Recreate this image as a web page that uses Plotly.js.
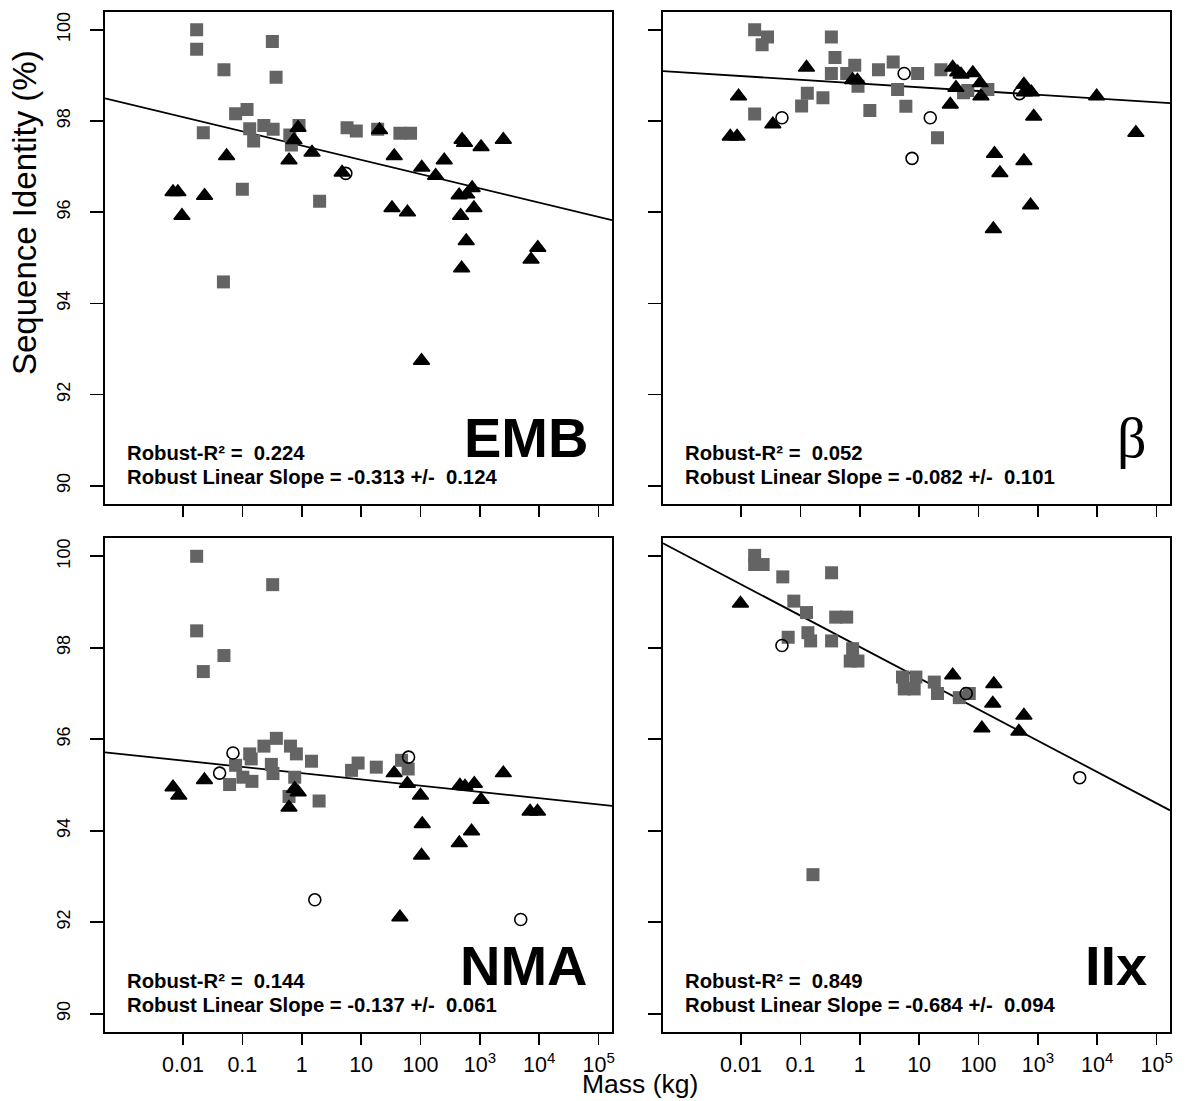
<!DOCTYPE html>
<html>
<head>
<meta charset="utf-8">
<script src="https://cdn.plot.ly/plotly-3.0.1.min.js"></script>
<style>
  html, body { margin: 0; padding: 0; background: #ffffff; }
  #chart { width: 1189px; height: 1101px; }
</style>
</head>
<body>
<div id="chart"></div>
<script>
// ---- axes ----
const massTickVals = [0.01, 0.1, 1, 10, 100, 1000, 10000, 100000];
const massTickText = ['0.01', '0.1', '1', '10', '100', '10<sup>3</sup>', '10<sup>4</sup>', '10<sup>5</sup>'];
const identityTickVals = [90, 92, 94, 96, 98, 100];

// ---- per-panel summary (robust regression of identity on log10 mass) ----
const panelNames = ['EMB', 'β', 'NMA', 'IIx'];
const robustR2 = [0.224, 0.052, 0.144, 0.849];
const robustSlope = [-0.313, -0.082, -0.137, -0.684];
const robustSlopeSE = [0.124, 0.101, 0.061, 0.094];
const fitAtOneKg = [97.46, 98.82, 95.26, 98.02];

// ---- EMB ----
const embSquareMass = [0.017, 0.017, 0.32, 0.049, 0.37, 0.077, 0.12, 0.022, 0.133, 0.155, 0.23, 0.33, 0.63, 0.67, 0.90, 0.10, 2.0, 5.8, 8.3, 19, 45, 68, 0.048];
const embSquareIdentity = [100.0, 99.57, 99.74, 99.12, 98.96, 98.16, 98.25, 97.74, 97.83, 97.56, 97.90, 97.82, 97.69, 97.47, 97.90, 96.50, 96.24, 97.85, 97.78, 97.82, 97.73, 97.73, 94.47];
const embTriangleMass = [0.0068, 0.0082, 0.0096, 0.0231, 0.0543, 0.611, 0.867, 0.741, 1.49, 4.79, 36.1, 105, 180, 251, 501, 550, 1047, 2483, 741, 447, 603, 794, 33.1, 60.3, 474, 589, 9441, 493, 7278, 104, 20.4];
const embTriangleIdentity = [96.44, 96.44, 95.92, 96.36, 97.23, 97.14, 97.85, 97.58, 97.31, 96.87, 97.23, 96.98, 96.80, 97.14, 97.59, 97.52, 97.43, 97.59, 96.53, 96.37, 96.39, 96.09, 96.09, 96.00, 95.92, 95.37, 95.22, 94.77, 94.96, 92.74, 97.80];
const embCircleMass = [5.52];
const embCircleIdentity = [96.85];

// ---- beta ----
const betaSquareMass = [0.017, 0.028, 0.0227, 0.333, 0.383, 0.333, 0.603, 0.824, 0.935, 2.07, 3.66, 4.34, 5.98, 0.131, 0.105, 0.24, 0.017, 1.48, 9.44, 23.3, 20.4, 66, 144, 56];
const betaSquareIdentity = [100.0, 99.84, 99.67, 99.84, 99.39, 99.04, 99.04, 99.22, 98.76, 99.12, 99.29, 98.69, 98.32, 98.61, 98.33, 98.51, 98.15, 98.23, 99.04, 99.12, 97.63, 98.67, 98.69, 98.62];
const betaTriangleMass = [0.0091, 0.0066, 0.0086, 0.0344, 0.127, 0.759, 0.912, 33.5, 36.8, 44.7, 50.8, 80.2, 41.7, 107, 110, 582, 776, 596, 9772, 851, 44668, 186, 582, 229, 753, 178];
const betaTriangleIdentity = [98.54, 97.66, 97.66, 97.93, 99.17, 98.90, 98.89, 98.36, 99.17, 99.07, 99.02, 99.05, 98.73, 98.83, 98.54, 98.80, 98.63, 98.63, 98.54, 98.10, 97.74, 97.28, 97.12, 96.86, 96.15, 95.63];
const betaCircleMass = [0.049, 5.6, 7.6, 15.4, 490];
const betaCircleIdentity = [98.07, 99.04, 97.18, 98.07, 98.60];

// ---- NMA ----
const nmaSquareMass = [0.017, 0.324, 0.017, 0.049, 0.022, 0.374, 0.231, 0.133, 0.141, 0.646, 0.813, 1.46, 0.308, 0.077, 6.9, 8.9, 0.061, 0.102, 0.145, 0.328, 0.762, 0.611, 1.96, 18, 48, 62];
const nmaSquareIdentity = [100.0, 99.38, 98.37, 97.83, 97.48, 96.02, 95.85, 95.68, 95.57, 95.85, 95.68, 95.52, 95.45, 95.43, 95.32, 95.48, 95.01, 95.17, 95.08, 95.25, 95.17, 94.75, 94.65, 95.39, 95.54, 95.35];
const nmaTriangleMass = [0.0068, 0.0085, 0.023, 0.76, 0.87, 0.61, 45, 60, 36, 100, 107, 104, 461, 562, 805, 1047, 724, 450, 7000, 9333, 2483];
const nmaTriangleIdentity = [94.95, 94.77, 95.11, 94.92, 94.84, 94.51, 92.11, 95.03, 95.26, 94.77, 94.15, 93.46, 94.99, 94.97, 95.03, 94.68, 93.99, 93.73, 94.42, 94.42, 95.26];
const nmaCircleMass = [0.0695, 0.0414, 63, 1.66, 4875];
const nmaCircleIdentity = [95.70, 95.26, 95.61, 92.49, 92.06];

// ---- IIx ----
const iixSquareMass = [0.017, 0.0236, 0.017, 0.0506, 0.336, 0.0776, 0.127, 0.394, 0.603, 0.0624, 0.134, 0.149, 0.336, 0.759, 0.692, 0.933, 5.25, 8.83, 5.62, 8.26, 18, 20.4, 70, 47.5, 0.163];
const iixSquareIdentity = [100.02, 99.82, 99.82, 99.55, 99.64, 99.02, 98.77, 98.67, 98.67, 98.23, 98.33, 98.15, 98.15, 97.98, 97.71, 97.71, 97.36, 97.36, 97.10, 97.10, 97.25, 97.00, 97.00, 96.91, 93.04];
const iixTriangleMass = [0.0098, 36.8, 181, 174, 582, 114, 479];
const iixTriangleIdentity = [98.97, 97.40, 97.21, 96.78, 96.52, 96.24, 96.17];
const iixCircleMass = [0.049, 62, 5058];
const iixCircleIdentity = [98.05, 97.00, 95.16];

const panels = [
  { sq: [embSquareMass, embSquareIdentity], tri: [embTriangleMass, embTriangleIdentity], circ: [embCircleMass, embCircleIdentity] },
  { sq: [betaSquareMass, betaSquareIdentity], tri: [betaTriangleMass, betaTriangleIdentity], circ: [betaCircleMass, betaCircleIdentity] },
  { sq: [nmaSquareMass, nmaSquareIdentity], tri: [nmaTriangleMass, nmaTriangleIdentity], circ: [nmaCircleMass, nmaCircleIdentity] },
  { sq: [iixSquareMass, iixSquareIdentity], tri: [iixTriangleMass, iixTriangleIdentity], circ: [iixCircleMass, iixCircleIdentity] }
];

// ---- geometry (pixels) ----
const W = 1189, H = 1101;
const FONT = 'Liberation Sans, Arial, Helvetica, sans-serif';
const colPx = [[105, 612], [663, 1170]];
const rowPx = [[11.5, 504], [538, 1032]];
const LOG_X_RANGE = [-3.313, 5.225];
const Y_RANGE = [89.6, 100.4];
const fx = px => px / W;
const fy = py => 1 - py / H;

const traces = [];
const layout = {
  width: W, height: H,
  margin: { l: 0, r: 0, t: 0, b: 0 },
  paper_bgcolor: '#ffffff', plot_bgcolor: '#ffffff',
  showlegend: false,
  font: { family: FONT, color: '#000000' },
  annotations: []
};

panels.forEach((p, i) => {
  const row = Math.floor(i / 2), col = i % 2;
  const n = i + 1;
  const xId = n === 1 ? 'x' : 'x' + n;
  const yId = n === 1 ? 'y' : 'y' + n;
  const xKey = n === 1 ? 'xaxis' : 'xaxis' + n;
  const yKey = n === 1 ? 'yaxis' : 'yaxis' + n;
  const xOverlayKey = 'xaxis' + (n + 4);

  layout[xKey] = {
    type: 'log', range: LOG_X_RANGE, domain: [fx(colPx[col][0]), fx(colPx[col][1])],
    anchor: yId, showgrid: false, zeroline: false,
    showline: true, mirror: true, linecolor: '#000000', linewidth: 2,
    ticks: 'outside', ticklen: 11, tickwidth: 1.6, tickcolor: '#000000',
    tickmode: 'array', tickvals: massTickVals, ticktext: massTickText,
    showticklabels: row === 1, ticklabelstandoff: 1,
    tickfont: { family: FONT, size: 21.5, color: '#000000' }
  };
  // second axis on the same bottom edge: the inward half of each tick
  layout[xOverlayKey] = {
    type: 'log', range: LOG_X_RANGE, overlaying: xId, anchor: yId,
    showgrid: false, zeroline: false, showline: false,
    ticks: 'inside', ticklen: 10, tickwidth: 1.6, tickcolor: '#000000',
    tickmode: 'array', tickvals: massTickVals, showticklabels: false
  };
  layout[yKey] = {
    range: Y_RANGE, domain: [fy(rowPx[row][1]), fy(rowPx[row][0])],
    anchor: xId, showgrid: false, zeroline: false,
    showline: true, mirror: true, linecolor: '#000000', linewidth: 2,
    ticks: 'outside', ticklen: 13, tickwidth: 1.6, tickcolor: '#000000',
    tickmode: 'array', tickvals: identityTickVals, tickangle: -90,
    showticklabels: col === 0, ticklabelstandoff: 13,
    tickfont: { family: FONT, size: 18, color: '#000000' }
  };

  // fitted robust line across the full x extent
  const lx = LOG_X_RANGE.map(v => Math.pow(10, v));
  const ly = LOG_X_RANGE.map(v => fitAtOneKg[i] + robustSlope[i] * v);
  traces.push({
    x: lx, y: ly, xaxis: xId, yaxis: yId, type: 'scatter', mode: 'lines',
    line: { color: '#000000', width: 1.8 }, hoverinfo: 'skip', cliponaxis: true
  });
  traces.push({
    x: p.sq[0], y: p.sq[1], xaxis: xId, yaxis: yId, type: 'scatter', mode: 'markers',
    marker: { symbol: 'square', size: 13, color: '#646464', line: { width: 0 } }
  });
  traces.push({
    x: p.tri[0], y: p.tri[1], xaxis: xId, yaxis: yId, type: 'scatter', mode: 'markers',
    marker: { symbol: 'triangle-up', size: 14, color: '#000000', line: { width: 1.5, color: '#000000' } }
  });
  traces.push({
    x: p.circ[0], y: p.circ[1], xaxis: xId, yaxis: yId, type: 'scatter', mode: 'markers',
    marker: { symbol: 'circle-open', size: 12, color: '#000000', line: { width: 1.6, color: '#000000' } }
  });

  // panel name
  const nameRight = col === 0 ? 590 : 1149;
  const nameMid = row === 0 ? 437 : 965;
  layout.annotations.push({
    xref: 'paper', yref: 'paper', x: fx(nameRight), y: fy(nameMid),
    xanchor: 'right', yanchor: 'middle', showarrow: false,
    text: i === 1 ? panelNames[i] : '<b>' + panelNames[i] + '</b>',
    font: i === 1
      ? { family: 'Liberation Serif, Times New Roman, serif', size: 58, color: '#000000' }
      : { family: FONT, size: 56, color: '#000000' }
  });

  // statistics text
  const statLeft = col === 0 ? 125 : 683;
  const statMid1 = row === 0 ? 453 : 981;
  const statMid2 = row === 0 ? 477 : 1005;
  layout.annotations.push({
    xref: 'paper', yref: 'paper', x: fx(statLeft), y: fy(statMid1),
    xanchor: 'left', yanchor: 'middle', showarrow: false,
    text: '<b>Robust-R² =\u00a0 ' + robustR2[i].toFixed(3) + '</b>',
    font: { family: FONT, size: 20.3, color: '#000000' }
  });
  layout.annotations.push({
    xref: 'paper', yref: 'paper', x: fx(statLeft), y: fy(statMid2),
    xanchor: 'left', yanchor: 'middle', showarrow: false,
    text: '<b>Robust Linear Slope = ' + robustSlope[i].toFixed(3) + ' +/-\u00a0 ' + robustSlopeSE[i].toFixed(3) + '</b>',
    font: { family: FONT, size: 20.3, color: '#000000' }
  });
});

// shared axis titles
layout.annotations.push({
  xref: 'paper', yref: 'paper', x: fx(640), y: fy(1084),
  xanchor: 'center', yanchor: 'middle', showarrow: false, borderpad: 0,
  text: 'Mass (kg)', font: { family: FONT, size: 26.5, color: '#000000' }
});
layout.annotations.push({
  xref: 'paper', yref: 'paper', x: fx(25), y: fy(213),
  xanchor: 'center', yanchor: 'middle', showarrow: false, textangle: -90,
  text: 'Sequence Identity (%)', font: { family: FONT, size: 33, color: '#000000' }
});

Plotly.newPlot('chart', traces, layout, { staticPlot: true, displayModeBar: false });
</script>
</body>
</html>
